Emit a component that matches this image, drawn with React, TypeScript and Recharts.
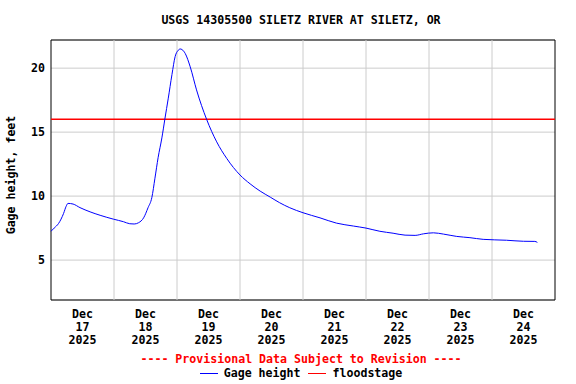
import React from "react";
import {
  LineChart,
  Line,
  XAxis,
  YAxis,
  CartesianGrid,
  ReferenceLine,
  ReferenceArea,
} from "recharts";

// time in days since Dec 17 00:00, gage height in feet
const DAYS = [
  0, 0.05, 0.12, 0.2, 0.24, 0.27, 0.35, 0.46, 0.62, 0.78, 0.99, 1.15, 1.25, 1.32,
  1.39, 1.47, 1.54, 1.6, 1.65, 1.7, 1.76, 1.81, 1.86, 1.92, 1.97, 2.02, 2.05, 2.08, 2.13,
  2.21, 2.31, 2.47, 2.63, 2.79, 3.0, 3.16, 3.32, 3.48, 3.63, 3.79, 4.0, 4.27, 4.53, 4.8, 5.0,
  5.22, 5.43, 5.62, 5.78, 5.91, 6.07, 6.23, 6.44, 6.65, 6.86, 7.23, 7.5, 7.68, 7.72,
];
const GAGE = [
  7.25, 7.5, 7.86, 8.65, 9.2, 9.43, 9.38, 9.1, 8.77, 8.5, 8.2, 8.0, 7.84, 7.82,
  7.92, 8.3, 9.09, 9.87, 11.4, 13.0, 14.55, 16.1, 17.6, 19.5, 20.9, 21.4, 21.5, 21.45, 21.15,
  20.1, 18.3, 16.0, 14.24, 12.94, 11.65, 10.96, 10.39, 9.92, 9.48, 9.09, 8.7, 8.3, 7.89, 7.66, 7.5,
  7.25, 7.1, 6.95, 6.93, 7.05, 7.13, 7.03, 6.85, 6.75, 6.62, 6.55, 6.47, 6.46, 6.38,
];

const FLOOD_STAGE = 16;
const Y_TICKS = [5, 10, 15, 20];
const DAY_LINES = [1, 2, 3, 4, 5, 6, 7];
const LABEL_TICKS = [0.5, 1.5, 2.5, 3.5, 4.5, 5.5, 6.5, 7.5];
const TICK_MONTH = "Dec";
const TICK_DATES = ["17", "18", "19", "20", "21", "22", "23", "24"];
const TICK_YEAR = "2025";

const data = DAYS.map((d, i) => ({ day: d, gage: GAGE[i] }));

const FONT = "'DejaVu Sans Mono', 'Liberation Mono', monospace";

function DateTick(props: any) {
  const { x, y, payload } = props;
  const i = Math.floor(payload.value);
  return (
    <text
      x={x}
      y={y}
      textAnchor="middle"
      fontFamily={FONT}
      fontWeight="bold"
      fontSize={11.6}
      fill="#000"
    >
      <tspan x={x} dy={12}>{TICK_MONTH}</tspan>
      <tspan x={x} dy={13}>{TICK_DATES[i]}</tspan>
      <tspan x={x} dy={13}>{TICK_YEAR}</tspan>
    </text>
  );
}

const textStyle: React.CSSProperties = {
  position: "absolute",
  fontFamily: FONT,
  fontWeight: "bold",
  fontSize: "11.6px",
  lineHeight: "14px",
  whiteSpace: "nowrap",
};

const swatch = (color: string): React.CSSProperties => ({
  display: "block",
  width: 18,
  height: 0,
  borderTop: `1px solid ${color}`,
  marginRight: 6,
});

export default function App() {
  return (
    <div
      style={{
        position: "absolute",
        left: 0,
        top: 0,
        width: 576,
        height: 384,
        background: "#fff",
      }}
    >
      <div style={{ ...textStyle, top: 13, left: 0, width: 602, textAlign: "center" }}>
        USGS 14305500 SILETZ RIVER AT SILETZ, OR
      </div>
      <div
        style={{
          ...textStyle,
          left: 11,
          top: 175,
          transform: "translate(-50%, -50%) rotate(-90deg)",
        }}
      >
        Gage height, feet
      </div>
      <LineChart
        width={576}
        height={384}
        data={data}
        margin={{ top: 40, right: 21, bottom: 0, left: 0 }}
      >
        <CartesianGrid vertical={false} stroke="#cccccc" />
        <XAxis
          dataKey="day"
          type="number"
          domain={[0, 8]}
          ticks={LABEL_TICKS}
          interval={0}
          tickLine={false}
          axisLine={false}
          tickMargin={0}
          height={84}
          tick={<DateTick />}
        />
        <YAxis
          type="number"
          domain={[1.88, 22.2]}
          ticks={Y_TICKS}
          allowDataOverflow
          width={51}
          tickLine={false}
          axisLine={false}
          tickMargin={0}
          tick={{
            fill: "#000",
            fontFamily: FONT,
            fontWeight: "bold",
            fontSize: 11.6,
          }}
        />
        {DAY_LINES.map((d) => (
          <ReferenceLine key={d} x={d} stroke="#cccccc" />
        ))}
        <ReferenceLine y={FLOOD_STAGE} stroke="#ff0000" strokeWidth={1.5} />
        <Line
          type="monotone"
          dataKey="gage"
          stroke="#0000ff"
          strokeWidth={1}
          dot={false}
          isAnimationActive={false}
        />
        <ReferenceArea
          x1={0}
          x2={8}
          y1={1.88}
          y2={22.2}
          fill="none"
          stroke="#000"
          strokeWidth={1}
        />
      </LineChart>
      <div
        style={{
          ...textStyle,
          top: 352,
          left: 0,
          width: 602,
          textAlign: "center",
          color: "#ff0000",
        }}
      >
        ---- Provisional Data Subject to Revision ----
      </div>
      <div
        style={{
          ...textStyle,
          top: 366,
          left: 0,
          width: 602,
          display: "flex",
          justifyContent: "center",
          alignItems: "center",
        }}
      >
        <span style={swatch("#0000ff")} />
        <span>Gage height</span>
        <span style={{ ...swatch("#ff0000"), marginLeft: 8 }} />
        <span>floodstage</span>
      </div>
    </div>
  );
}
